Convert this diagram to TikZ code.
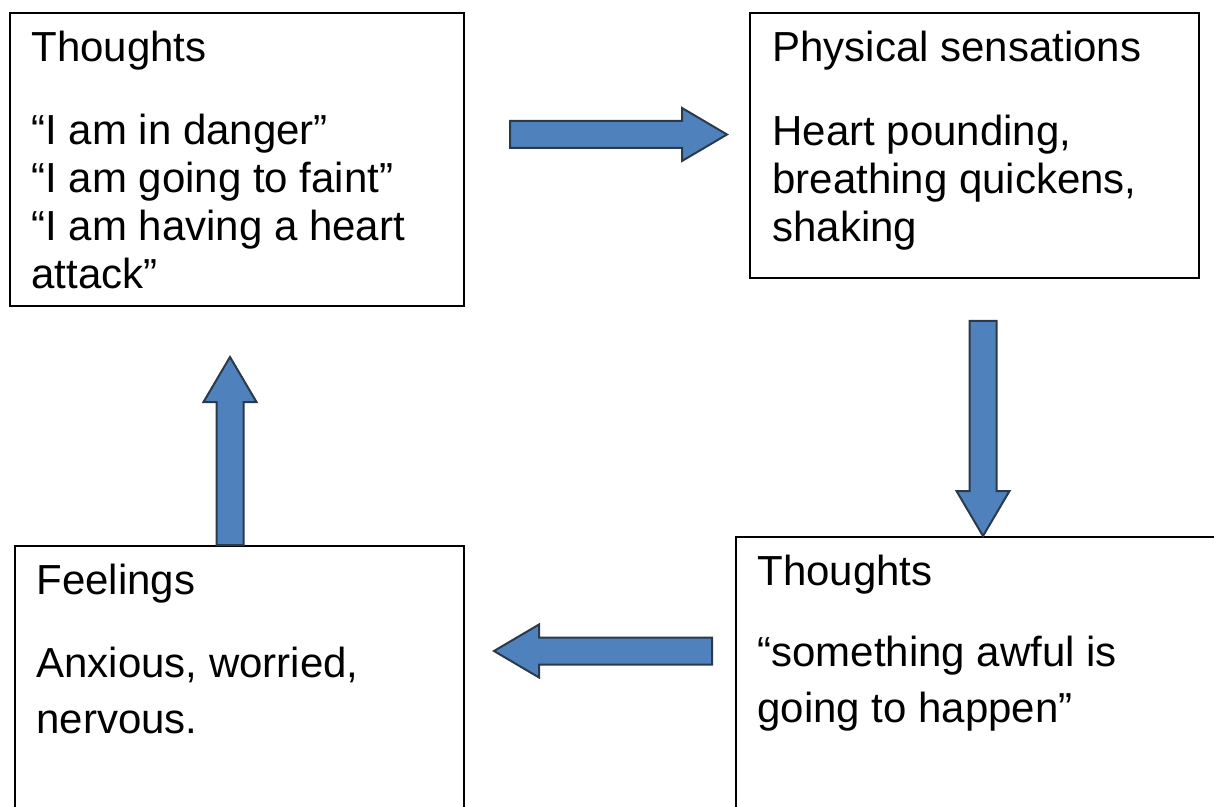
\documentclass[tikz,border=0pt]{standalone}
\usepackage{fontspec}
\setmainfont{Liberation Sans}
\usetikzlibrary{calc, positioning}
\usepackage{xcolor}

\definecolor{arrowfill}{HTML}{4F81BD}
\definecolor{arrowline}{HTML}{2B3A4A}

\tikzset{
  card/.style={draw=black, line width=1pt, anchor=north west, inner sep=0pt},
  head/.style={anchor=base west, inner sep=0pt, font=\fontsize{21}{24}\selectfont},
  % multi-line text sits on the baseline of its last line
  body/.style={anchor=base west, inner sep=0pt, align=left, font=\fontsize{21}{24}\selectfont},
  fatarrow/.style={fill=arrowfill, draw=arrowline, line width=1pt, line join=miter},
}

% block arrow from one named point to another
\newcommand{\blockarrow}[2]{%
  \draw[fatarrow] let \p1=($(#2)-(#1)$), \n1={atan2(\y1,\x1)}, \n2={veclen(\x1,\y1)} in
    [shift={(#1)}, rotate=\n1]
    (0pt,-6.75pt) -- (\n2-22.5pt,-6.75pt) -- (\n2-22.5pt,-13.25pt) -- (\n2,0pt)
    -- (\n2-22.5pt,13.25pt) -- (\n2-22.5pt,6.75pt) -- (0pt,6.75pt) -- cycle;}

\begin{document}
\begin{tikzpicture}[x=0.5pt, y=-0.5pt]
  \useasboundingbox (0,0) rectangle (1214,807);

  % the four boxes
  \node[card, minimum width=227pt, minimum height=146.5pt] (tl) at (9,12) {};
  \node[card, minimum width=224.5pt, minimum height=132.5pt] (tr) at (749,12) {};
  \node[card, minimum width=224.5pt, minimum height=150pt] (bl) at (14,545) {};
  \node[card, minimum width=250pt, minimum height=150pt] (br) at (735,536) {};

  % box texts
  \node[head] (tlh) at ($(tl.north west)+(22,50)$) {Thoughts};
  \node[body] (tlb) at ($(tl.north west)+(22,277)$)
    {“I am in danger”\\“I am going to faint”\\“I am having a heart\\attack”};

  \node[head] (trh) at ($(tr.north west)+(23,50)$) {Physical sensations};
  \node[body] (trb) at ($(tr.north west)+(23,230)$)
    {Heart pounding,\\breathing quickens,\\shaking};

  \node[head] (blh) at ($(bl.north west)+(22,49)$) {Feelings};
  \node[body, font=\fontsize{21}{28}\selectfont] (blb) at ($(bl.north west)+(22,188)$)
    {Anxious, worried,\\nervous.};

  \node[head] (brh) at ($(br.north west)+(22,49)$) {Thoughts};
  \node[body, font=\fontsize{21}{28}\selectfont] (brb) at ($(br.north west)+(22,186)$)
    {“something awful is\\going to happen”};

  % arrow ends
  \coordinate (r1) at (510,134.5);
  \coordinate (r2) at (727,134.5);
  \coordinate (d1) at (983,321);
  \coordinate (d2) at (d1 |- br.north);
  \coordinate (l1) at (712,651);
  \coordinate (l2) at (494,651);
  \coordinate (u2) at (230,357);
  \coordinate (u1) at (u2 |- bl.north);

  \blockarrow{r1}{r2}
  \blockarrow{d1}{d2}
  \blockarrow{l1}{l2}
  \blockarrow{u1}{u2}
\end{tikzpicture}
\end{document}
